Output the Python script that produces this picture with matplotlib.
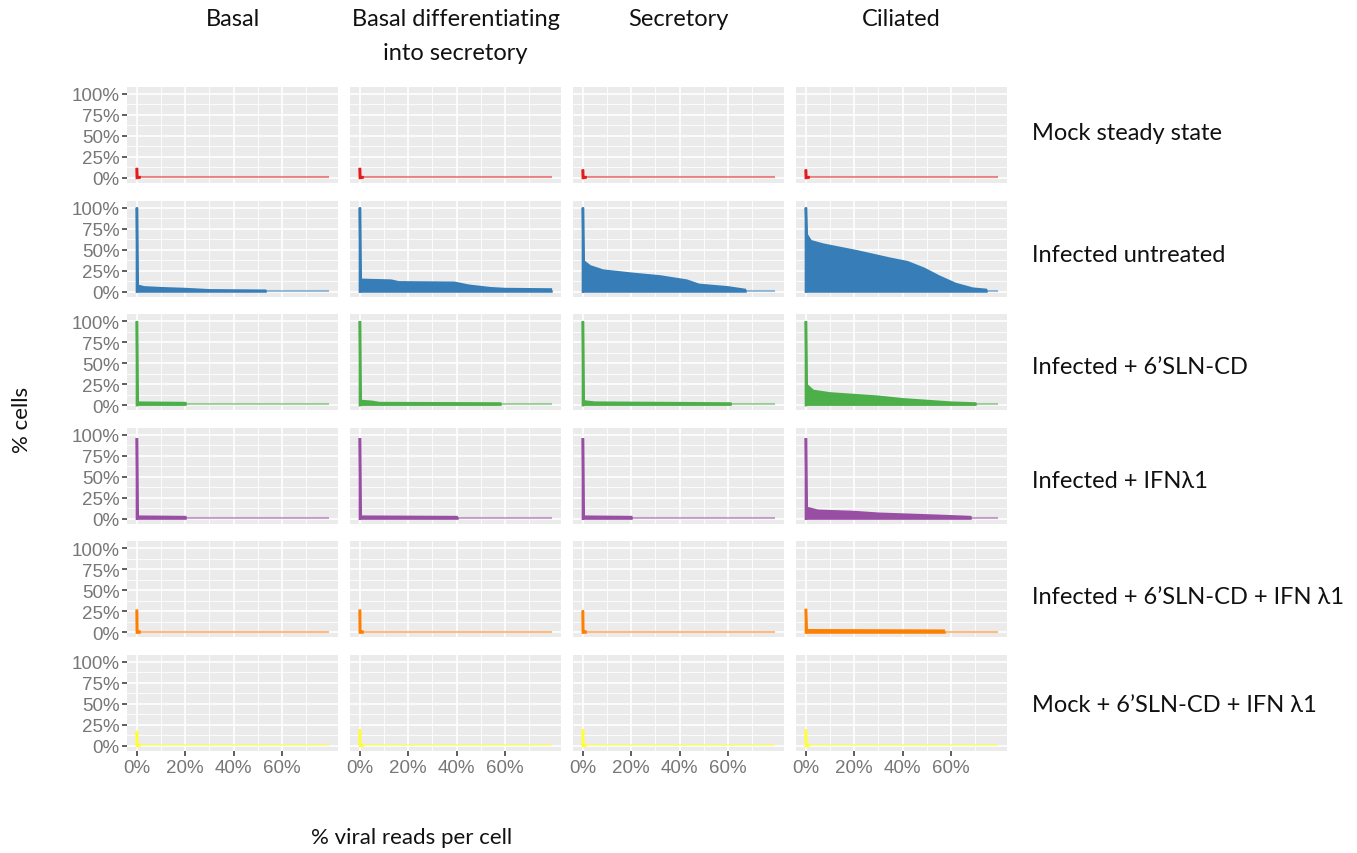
import numpy as np
import matplotlib
matplotlib.use("Agg")
import matplotlib.pyplot as plt

# facet labels
cell_types = ["Basal", "Basal differentiating\ninto secretory", "Secretory", "Ciliated"]
conditions = ["Mock steady state", "Infected untreated", "Infected + 6\u2019SLN-CD",
              "Infected + IFN\u03bb1", "Infected + 6\u2019SLN-CD + IFN \u03bb1",
              "Mock + 6\u2019SLN-CD + IFN \u03bb1"]
colors = ["#E41A1C", "#377EB8", "#4DAF4A", "#984EA3", "#FF7F00", "#FFFF33"]

# % cells above a given % of viral reads, (x, y) points per cell type
mock_pts = [
    [(0, 0.12), (0.001, 0.01), (0.01, 0.01)],
    [(0, 0.12), (0.001, 0.01), (0.01, 0.01)],
    [(0, 0.10), (0.001, 0.01), (0.01, 0.01)],
    [(0, 0.10), (0.001, 0.01), (0.01, 0.01)],
]
untreated_pts = [
    [(0, 1.0), (0.003, 0.07), (0.03, 0.05), (0.1, 0.04), (0.2, 0.03), (0.3, 0.015), (0.53, 0.01)],
    [(0, 1.0), (0.003, 0.14), (0.13, 0.13), (0.16, 0.11), (0.39, 0.105), (0.45, 0.07),
     (0.54, 0.04), (0.6, 0.03), (0.79, 0.025)],
    [(0, 1.0), (0.003, 0.36), (0.03, 0.30), (0.083, 0.25), (0.21, 0.21), (0.32, 0.18),
     (0.43, 0.13), (0.48, 0.08), (0.6, 0.05), (0.67, 0.02)],
    [(0, 1.0), (0.003, 0.68), (0.02, 0.60), (0.07, 0.56), (0.21, 0.48), (0.35, 0.39),
     (0.42, 0.35), (0.49, 0.27), (0.55, 0.18), (0.62, 0.09), (0.69, 0.035), (0.745, 0.02)],
]
slncd_pts = [
    [(0, 1.0), (0.003, 0.03), (0.2, 0.025)],
    [(0, 1.0), (0.003, 0.05), (0.05, 0.04), (0.08, 0.025), (0.58, 0.02)],
    [(0, 1.0), (0.003, 0.045), (0.05, 0.03), (0.61, 0.02)],
    [(0, 1.0), (0.003, 0.24), (0.03, 0.17), (0.1, 0.14), (0.2, 0.12), (0.3, 0.10),
     (0.4, 0.07), (0.5, 0.05), (0.6, 0.03), (0.7, 0.02)],
]
ifn_pts = [
    [(0, 0.96), (0.003, 0.025), (0.2, 0.02)],
    [(0, 0.96), (0.003, 0.025), (0.4, 0.02)],
    [(0, 0.96), (0.003, 0.025), (0.2, 0.02)],
    [(0, 0.96), (0.003, 0.13), (0.05, 0.095), (0.2, 0.08), (0.3, 0.06), (0.4, 0.05),
     (0.55, 0.035), (0.68, 0.02)],
]
slncd_ifn_pts = [
    [(0, 0.27), (0.001, 0.01), (0.01, 0.01)],
    [(0, 0.27), (0.001, 0.01), (0.01, 0.01)],
    [(0, 0.26), (0.001, 0.01), (0.01, 0.01)],
    [(0, 0.28), (0.003, 0.025), (0.57, 0.02)],
]
mock_slncd_ifn_pts = [
    [(0, 0.18), (0.001, 0.01), (0.01, 0.01)],
    [(0, 0.20), (0.001, 0.01), (0.01, 0.01)],
    [(0, 0.20), (0.001, 0.01), (0.01, 0.01)],
    [(0, 0.20), (0.001, 0.01), (0.01, 0.01)],
]
all_pts = [mock_pts, untreated_pts, slncd_pts, ifn_pts, slncd_ifn_pts, mock_slncd_ifn_pts]
x_max = 0.794

y_ticks = [0, 0.25, 0.5, 0.75, 1.0]
y_labels = ["0%", "25%", "50%", "75%", "100%"]
x_ticks = [0, 0.2, 0.4, 0.6]
x_labels = ["0%", "20%", "40%", "60%"]

W, H = 1357, 854
fig = plt.figure(figsize=(W / 100, H / 100), dpi=100)

text_font = ["Lato", "DejaVu Sans"]
tick_color = "#777777"

col_left = [127, 350, 573, 796]
panel_w = 211
row_top0 = 88
row_pitch = 113.6
panel_h = 96

for r, cond in enumerate(conditions):
    for c, ct in enumerate(cell_types):
        top = row_top0 + r * row_pitch
        ax = fig.add_axes([col_left[c] / W, 1 - (top + panel_h) / H, panel_w / W, panel_h / H])
        ax.set_facecolor("#EBEBEB")
        for s in ax.spines.values():
            s.set_visible(False)
        ax.set_xlim(-0.041, 0.832)
        ax.set_ylim(-0.06, 1.083)
        ax.set_xticks(x_ticks)
        ax.set_xticks([0.1, 0.3, 0.5, 0.7], minor=True)
        ax.set_yticks(y_ticks)
        ax.set_yticks([0.125, 0.375, 0.625, 0.875], minor=True)
        ax.grid(which="major", color="white", lw=1.2)
        ax.grid(which="minor", color="white", lw=0.6)
        ax.set_axisbelow(True)
        ax.tick_params(which="minor", length=0)
        ax.tick_params(which="major", color="#333333", length=3.5, width=1.1,
                       labelsize=13.5, labelcolor=tick_color, pad=2)
        if c == 0:
            ax.set_yticklabels(y_labels, family="Liberation Sans")
        else:
            ax.tick_params(axis="y", left=False, labelleft=False)
        if r == len(conditions) - 1:
            ax.set_xticklabels(x_labels, family="Liberation Sans")
        else:
            ax.tick_params(axis="x", bottom=False, labelbottom=False)

        pts = all_pts[r][c]
        xs = [p[0] for p in pts]
        ys = [p[1] for p in pts]
        col = colors[r]
        # faint baseline over the full read range
        ax.plot([xs[-1], x_max], [0.01, 0.01], color=col, lw=1.5, alpha=0.5,
                solid_capstyle="butt")
        ax.fill_between(xs, ys, 0, color=col, lw=0)
        ax.plot([0] + xs, [0] + ys, color=col, lw=1.8, solid_joinstyle="miter")
        ax.plot([0, xs[-1]], [0.01, 0.01], color=col, lw=1.8)

# column strip titles
for c, ct in enumerate(cell_types):
    cx = (col_left[c] + panel_w / 2) / W
    fig.text(cx, 1 - 9 / H, ct, ha="center", va="top", fontsize=17,
             family=text_font, color="#111111", linespacing=1.75)

# row labels
row_label_y = [134, 255, 368, 482, 597, 706]
for r, cond in enumerate(conditions):
    fig.text(1032 / W, 1 - row_label_y[r] / H, cond, ha="left", va="center",
             fontsize=17, family=text_font, color="#111111")

fig.text(22 / W, 1 - 420 / H, "% cells", rotation=90, ha="center", va="center",
         fontsize=16, family=text_font, color="#111111")
fig.text(412 / W, 1 - 838 / H, "% viral reads per cell", ha="center", va="center",
         fontsize=16, family=text_font, color="#111111")

fig.savefig("out.png", dpi=100)
